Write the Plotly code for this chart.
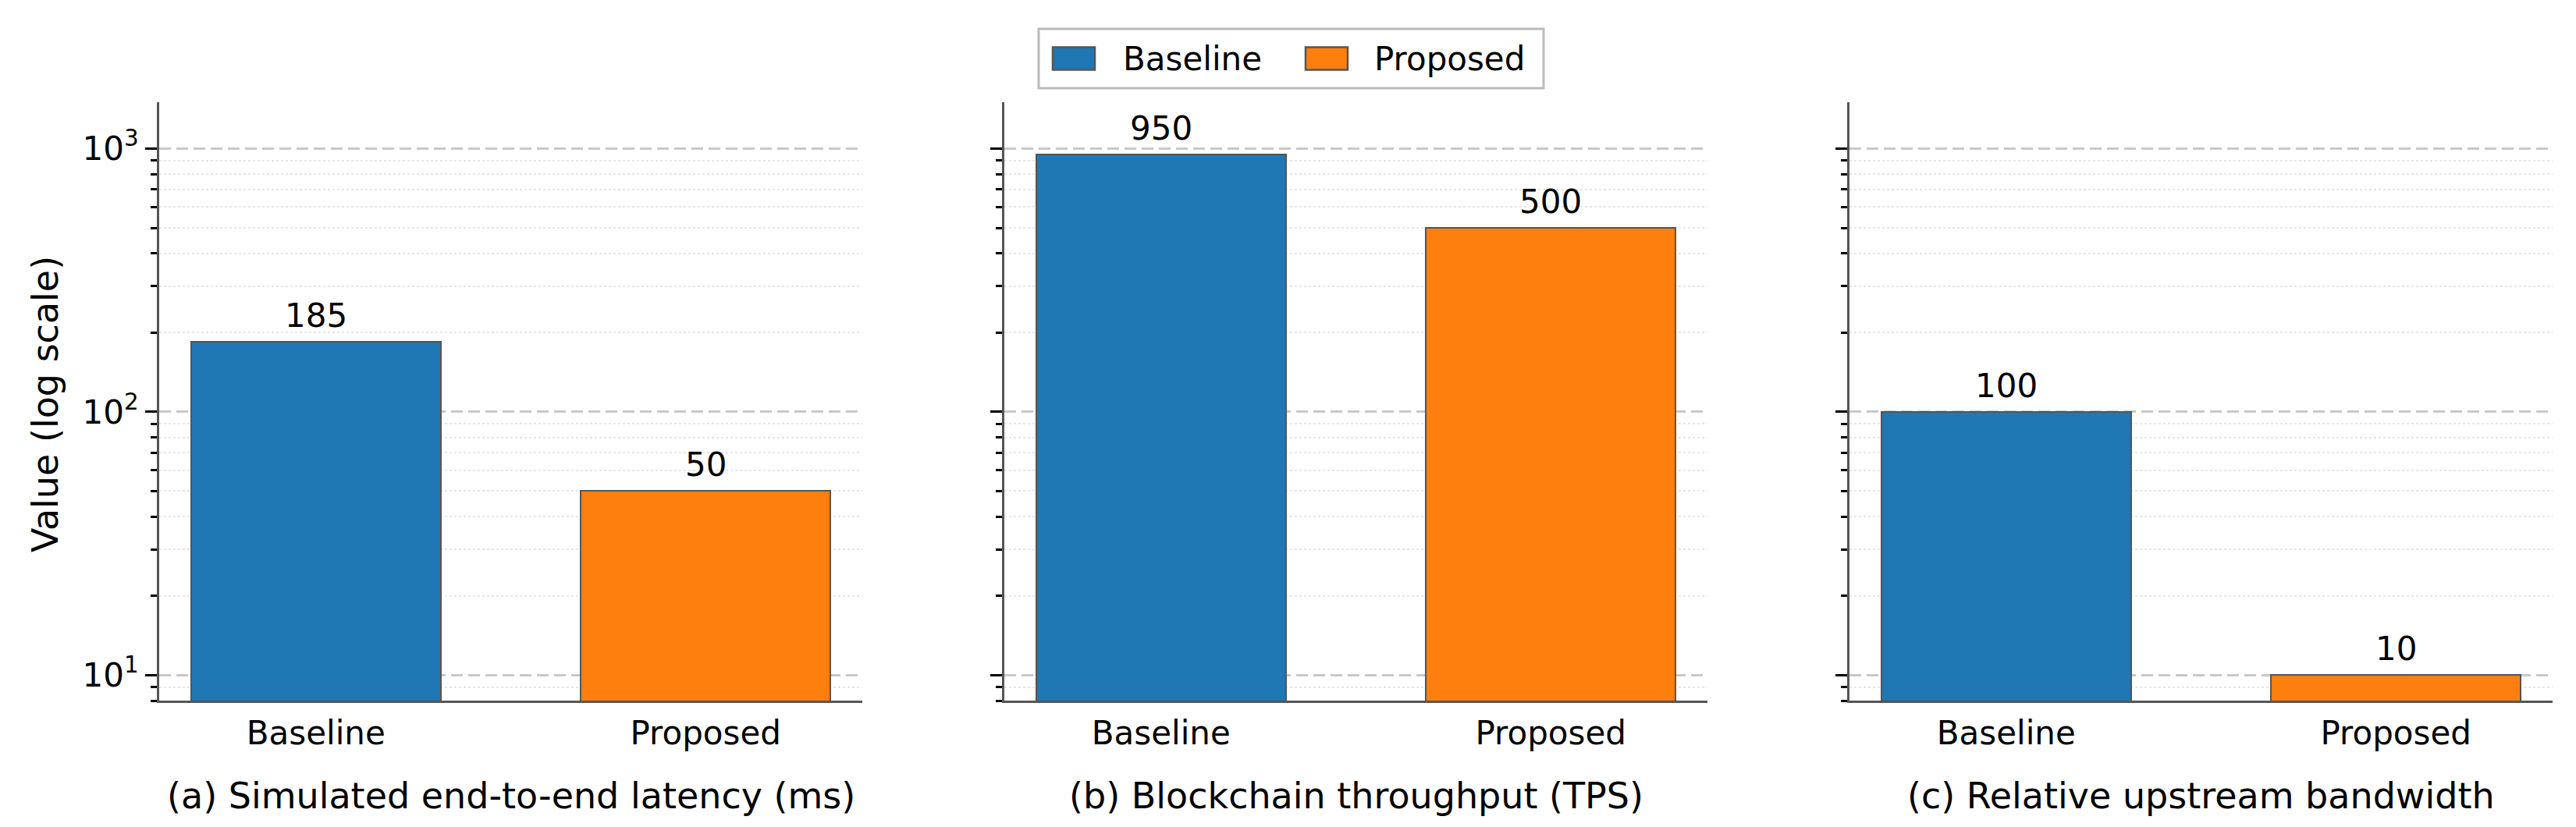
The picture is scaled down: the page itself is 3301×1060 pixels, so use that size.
import numpy as np
import plotly.graph_objects as go

# ---- data ----
categories = ["Baseline", "Proposed"]
latency_ms = [185, 50]
throughput_tps = [950, 500]
upstream_bw = [100, 10]
panel_titles = [
    "(a) Simulated end-to-end latency (ms)",
    "(b) Blockchain throughput (TPS)",
    "(c) Relative upstream bandwidth",
]
series_colors = ["#1f77b4", "#ff7f0e"]
major_ticks = [10, 100, 1000]
major_labels = ["10<sup>1</sup>", "10<sup>2</sup>", "10<sup>3</sup>"]
minor_ticks = [8, 9, 20, 30, 40, 50, 60, 70, 80, 90, 200, 300, 400, 500, 600, 700, 800, 900]
y_limits = [8, 1500]

W, H = 3301, 1060
FONT = "DejaVu Sans"
EDGE = "#555555"

def px(x):
    return x / W

def py(y):
    return 1 - y / H

panels = [latency_ms, throughput_tps, upstream_bw]
x_domains = [(196, 1097), (1279, 2180), (2362, 3263)]
y_domain = [py(890), py(123)]

fig = go.Figure()
annotations = []
shapes = []

for i, vals in enumerate(panels):
    n = i + 1
    xa = "x" if n == 1 else f"x{n}"
    ya = "y" if n == 1 else f"y{n}"
    fig.add_trace(go.Bar(
        x=categories, y=vals, width=0.64,
        marker=dict(color=series_colors, line=dict(color=EDGE, width=2)),
        xaxis=xa, yaxis=ya, showlegend=False, hoverinfo="skip",
    ))
    xkey = "xaxis" if n == 1 else f"xaxis{n}"
    ykey = "yaxis" if n == 1 else f"yaxis{n}"
    d0, d1 = x_domains[i]
    fig.layout[xkey] = dict(
        domain=[px(d0), px(d1)], anchor=ya, type="category",
        range=[-0.402, 1.402], showline=True, linecolor=EDGE, linewidth=3,
        ticks="", showgrid=False, zeroline=False,
        tickfont=dict(family=FONT, size=42, color="black"),
        ticklabelstandoff=3,
    )
    fig.layout[ykey] = dict(
        domain=y_domain, anchor=xa, type="log",
        range=[np.log10(y_limits[0]), np.log10(y_limits[1])],
        showline=True, linecolor=EDGE, linewidth=3, zeroline=False,
        tickmode="array", tickvals=major_ticks, ticktext=major_labels,
        ticks="outside", ticklen=15, tickwidth=3.3, tickcolor="black",
        showticklabels=(n == 1),
        tickfont=dict(family=FONT, size=42, color="black"),
        showgrid=True, gridcolor="#c8c8c8", gridwidth=3.3, griddash="15px,7px",
        minor=dict(tickmode="array", tickvals=minor_ticks, ticks="outside",
                   ticklen=8, tickwidth=2.5, tickcolor="black",
                   showgrid=True, gridcolor="#e6e6e6", gridwidth=1.5, griddash="dot"),
        layer="below traces",
    )
    # value labels
    for c, v in zip(categories, vals):
        annotations.append(dict(
            x=c, y=np.log10(v), xref=xa, yref=ya, text=str(v), showarrow=False,
            yanchor="bottom", yshift=7, font=dict(family=FONT, size=42, color="black"),
        ))
    # panel title
    annotations.append(dict(
        x=px((d0 + d1) / 2), y=py(1012), xref="paper", yref="paper",
        text=panel_titles[i], showarrow=False, xanchor="center", yanchor="middle",
        font=dict(family=FONT, size=46, color="black"),
    ))

# y-axis title
annotations.append(dict(
    x=px(50), y=py(510), xref="paper", yref="paper", text="Value (log scale)",
    showarrow=False, textangle=-90, xanchor="center", yanchor="middle",
    font=dict(family=FONT, size=46, color="black"),
))

# legend (drawn manually so the swatches match the reference size)
shapes.append(dict(type="rect", xref="paper", yref="paper",
                   x0=px(1323), x1=px(1970), y0=py(105), y1=py(29),
                   line=dict(color="#bbbbbb", width=3), fillcolor="white"))
legend_items = [(1341, 1429), (1665, 1751)]
for (sx, tx), name, col in zip(legend_items, categories, series_colors):
    shapes.append(dict(type="rect", xref="paper", yref="paper",
                       x0=px(sx), x1=px(sx + 54), y0=py(81.5), y1=py(52.5),
                       line=dict(color=EDGE, width=2.5), fillcolor=col))
    annotations.append(dict(
        x=px(tx), y=py(67), xref="paper", yref="paper", text=name, showarrow=False,
        xanchor="left", yanchor="middle", font=dict(family=FONT, size=42, color="black"),
    ))

fig.update_layout(
    width=W, height=H, margin=dict(l=0, r=0, t=0, b=0),
    paper_bgcolor="white", plot_bgcolor="white",
    bargap=0, barmode="overlay",
    annotations=annotations, shapes=shapes,
    font=dict(family=FONT, size=42, color="black"),
)

fig.write_html("out.html")
